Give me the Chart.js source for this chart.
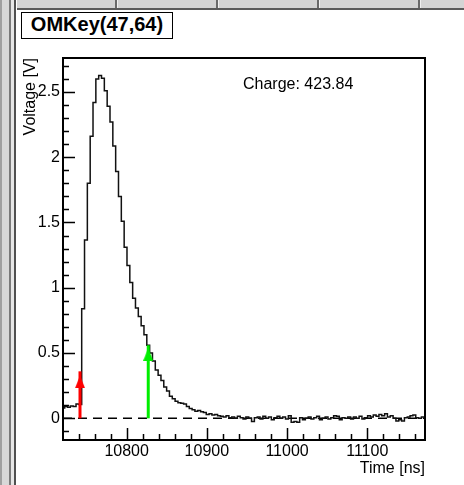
<!DOCTYPE html>
<html>
<head>
<meta charset="utf-8">
<title>OMKey(47,64)</title>
<script src="https://cdn.jsdelivr.net/npm/chart.js@4.4.1/dist/chart.umd.min.js"></script>
<style>
  html, body { margin: 0; padding: 0; background: #fff; }
  #wrap { position: relative; width: 464px; height: 485px; overflow: hidden; background: #fff; }
  #tabs { position: absolute; left: 0; top: 0; width: 464px; height: 8px; background: #d4d4d4; border-bottom: 2px solid #5a5a5a; }
  .tab { position: absolute; top: 0; width: 2px; height: 8px; background: #6a6a6a; border-right: 1px solid #f0f0f0; }
  #side { position: absolute; left: 0; top: 0; width: 17px; height: 485px;
    background: linear-gradient(to right, #a0a0a0 0, #a0a0a0 2px, #d8d8d8 2px, #d8d8d8 9px, #7a7a7a 9px, #7a7a7a 11px,
      #e6e6e6 11px, #e6e6e6 14px, #505050 14px, #505050 16px, #fff 16px); }
  #plot { position: absolute; left: 0; top: 0; }
  #omkey { position: absolute; left: 21px; top: 12px; width: 152px; height: 27px; box-sizing: border-box;
    border: 1.5px solid #000; background: #fff; text-align: center; line-height: 24px;
    font: bold 20px "Liberation Sans", Arial, Helvetica, sans-serif; }
</style>
</head>
<body>
<div id="wrap">
  <div id="tabs">
    <div class="tab" style="left:115px"></div>
    <div class="tab" style="left:216px"></div>
    <div class="tab" style="left:317px"></div>
    <div class="tab" style="left:418px"></div>
  </div>
  <div id="side"></div>
  <canvas id="plot" width="464" height="485"></canvas>
  <div id="omkey">OMKey(47,64)</div>
</div>
<script>
// waveform bins (ns) and voltages per bin (V)
var binStart = 10719.2;
var binWidth = 3.53;
var voltages = [
  0.08, 0.09, 0.085, 0.095, 0.09, 0.11, 0.105, 0.84, 1.365, 1.80,
  2.16, 2.42, 2.60, 2.625, 2.605, 2.51, 2.39, 2.27, 2.085, 1.89,
  1.70, 1.51, 1.31, 1.17, 1.04, 0.92, 0.845, 0.78, 0.71, 0.64,
  0.56, 0.50, 0.44, 0.37, 0.33, 0.29, 0.24, 0.21, 0.17, 0.15,
  0.13, 0.12, 0.115, 0.11, 0.09, 0.075, 0.065, 0.055, 0.06, 0.05,
  0.045, 0.03, 0.035, 0.025, 0.03, 0.02, 0.015, 0.01, 0.02, 0.005,
  0.01, 0.0, 0.015, 0.005, -0.005, 0.01, 0.0, -0.025, 0.005, 0.01,
  -0.005, 0.015, 0.0, 0.01, -0.01, 0.005, 0.015, 0.0, 0.01, -0.005,
  0.02, -0.03, -0.025, -0.03, 0.005, -0.01, 0.0, 0.01, -0.005, 0.005,
  0.015, -0.01, 0.0, 0.01, -0.005, 0.005, 0.02, 0.015, -0.01, 0.005,
  0.0, 0.01, -0.005, 0.01, 0.0, 0.015, -0.005, 0.005, 0.02, 0.01,
  0.025, 0.015, 0.03, 0.02, 0.035, 0.01, 0.02, 0.0, -0.02, -0.01,
  -0.02, 0.005, 0.01, 0.02, 0.025, 0.005, 0.0, 0.01, 0.005
];

// pulse start / end markers
var markerTimes = [10741.8, 10826.9];
var markerTops = [0.36, 0.56];
var markerHeads = [0.28, 0.49];

var chargeValue = 423.84;

var xRange = [10720.6, 11172];
var yRange = [-0.166, 2.76];
var xTicks = [10800, 10900, 11000, 11100];
var yTicks = [0, 0.5, 1, 1.5, 2, 2.5];

var FONT = '"Liberation Sans", Arial, Helvetica, sans-serif';
Chart.defaults.font.family = FONT;
Chart.defaults.font.size = 16;
Chart.defaults.color = '#000';

// histogram as left-edge points + closing edge
var histPoints = voltages.map(function(v, i){
    return {x: binStart + i * binWidth, y: v};
});
histPoints.push({x: binStart + voltages.length * binWidth, y: voltages[voltages.length - 1]});

function arrowHead(color){
    var c = document.createElement('canvas');
    c.width = 10; c.height = 13;
    var g = c.getContext('2d');
    g.fillStyle = color;
    g.beginPath();
    g.moveTo(5, 0); g.lineTo(10, 13); g.lineTo(0, 13);
    g.closePath();
    g.fill();
    return c;
}

var markerColors = ['#ff0000', '#00ee00'];
var datasets = [];
markerTimes.forEach(function(t, i){
    datasets.push({
        type: 'scatter',
        data: [{x: t, y: markerHeads[i]}],
        pointStyle: arrowHead(markerColors[i]),
        pointRadius: 6
    });
    datasets.push({
        type: 'line',
        data: [{x: t, y: 0}, {x: t, y: markerTops[i]}],
        borderColor: markerColors[i],
        borderWidth: 3,
        pointRadius: 0
    });
});
datasets.push({
    type: 'line',
    data: histPoints,
    stepped: 'before',
    borderColor: '#111',
    borderWidth: 1.5,
    pointRadius: 0
});
// dashed zero baseline
datasets.push({
    type: 'line',
    data: [{x: xRange[0], y: 0}, {x: xRange[1], y: 0}],
    borderColor: '#000',
    borderWidth: 1.5,
    borderDash: [9, 6],
    pointRadius: 0
});

// ROOT style frame: box, inward ticks, charge text
var rootFrame = {
    id: 'rootFrame',
    afterDatasetsDraw: function(chart){
        var ctx = chart.ctx, a = chart.chartArea;
        var x = chart.scales.x, y = chart.scales.y;
        ctx.save();
        ctx.strokeStyle = '#000';
        ctx.lineWidth = 2;
        ctx.strokeRect(a.left, a.top, a.right - a.left, a.bottom - a.top);
        ctx.lineWidth = 1.5;
        ctx.beginPath();
        for (var t = Math.ceil(x.min / 20) * 20; t <= x.max; t += 20) {
            var px = Math.round(x.getPixelForValue(t)) + 0.5;
            var len = (t % 100 === 0) ? 12 : 6;
            ctx.moveTo(px, a.bottom);
            ctx.lineTo(px, a.bottom - len);
        }
        for (var k = Math.ceil(y.min * 10); k <= Math.floor(y.max * 10); k++) {
            var py = Math.round(y.getPixelForValue(k / 10)) + 0.5;
            var l = (k % 5 === 0) ? 12 : 6;
            ctx.moveTo(a.left, py);
            ctx.lineTo(a.left + l, py);
        }
        ctx.stroke();
        ctx.fillStyle = '#000';
        ctx.font = '16px ' + FONT;
        ctx.textBaseline = 'middle';
        ctx.fillText('Charge: ' + chargeValue.toFixed(2), a.left + 180, a.top + 27);
        ctx.restore();
    }
};

// plain number labels, no thousands separator
function plainLabel(value){
    return String(value);
}

var ctx = document.getElementById('plot');
var chart = new Chart(ctx, {
    type: 'line',
    data: { datasets: datasets },
    options: {
        responsive: false,
        animation: false,
        devicePixelRatio: 1,
        layout: { padding: { left: 0, top: 58, right: 39, bottom: 0 } },
        plugins: {
            legend: { display: false },
            tooltip: { enabled: false }
        },
        scales: {
            x: {
                type: 'linear',
                min: xRange[0],
                max: xRange[1],
                grid: { display: false, drawTicks: false },
                border: { display: false },
                ticks: { padding: 2, maxRotation: 0, autoSkip: false, callback: plainLabel },
                afterBuildTicks: function(s){ s.ticks = xTicks.map(function(v){ return {value: v}; }); },
                afterFit: function(s){ s.height = 45; },
                title: { display: true, text: 'Time [ns]', align: 'end', padding: { top: 0, bottom: 7 } }
            },
            y: {
                type: 'linear',
                min: yRange[0],
                max: yRange[1],
                grid: { display: false, drawTicks: false },
                border: { display: false },
                ticks: { padding: 3, callback: plainLabel },
                afterBuildTicks: function(s){ s.ticks = yTicks.map(function(v){ return {value: v}; }); },
                afterFit: function(s){ s.width = 63; },
                title: { display: true, text: 'Voltage [V]', align: 'end', padding: { top: 21, bottom: 0 } }
            }
        }
    },
    plugins: [rootFrame]
});
</script>
</body>
</html>
